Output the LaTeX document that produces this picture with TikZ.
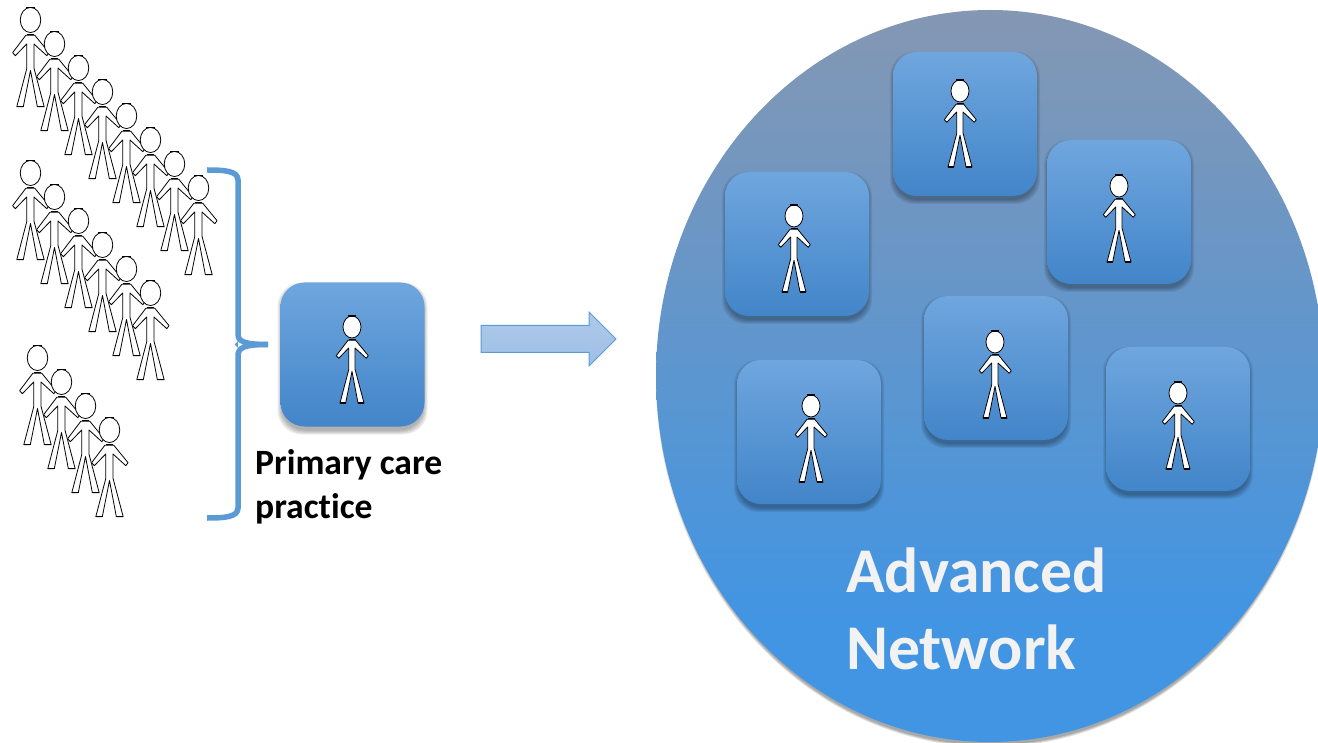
\documentclass[tikz,border=0pt]{standalone}
\usepackage{fontspec}
\setmainfont{Carlito}[Ligatures=NoCommon]
\usetikzlibrary{shapes.geometric}
\definecolor{tiletop}{HTML}{6FA6DE}
\definecolor{tilebot}{HTML}{4285C9}
\definecolor{bigtop}{HTML}{8497B3}
\definecolor{bigbot}{HTML}{4195E3}
\definecolor{bracecol}{HTML}{5B9BD5}
\definecolor{arrowtop}{HTML}{AFC9E9}
\definecolor{arrowbot}{HTML}{9DBFE6}
\pgfdeclareverticalshading{bigshade}{100bp}{color(0bp)=(bigbot); color(33bp)=(bigbot); color(75bp)=(bigtop); color(100bp)=(bigtop)}
\tikzset{
  x=1pt,y=-1pt,
  personline/.style={draw=black,fill=white,line width=.8pt,line join=round},
  personmark/.style={draw=black,line width=1.1pt},
  pics/person/.style={code={
    \path[personline] (-4,13.3)--(-15.7,28.7)--(-13.3,31.3)--(-3.3,21)--(-3.3,42.7)--(-12,76)--(-6.3,76)--(0,44.3)--(6,76)--(12,76)--(3,42)--(3,21)--(14.3,31.3)--(16.3,28.7)--(3.7,13.3)--cycle;
    \path[personmark] (-3.5,12.4)--(3.5,12.4);
    \path[personmark] (-6.3,76)--(-12,76) (6,76)--(12,76);
    \path[personline] (0,0) ellipse [x radius=9,y radius=11];
    \path[personmark] (-4,-11)--(4,-11);
  }},
  tileface/.style={rounded corners=24pt,top color=tiletop,bottom color=tilebot,draw=none,minimum width=144pt,minimum height=144pt,inner sep=0pt},
  tileshade/.style={rounded corners=24pt,fill=black,fill opacity=.07,draw=none,inner sep=0pt},
  bigtext/.style={text=white!95!black,font=\bfseries\fontsize{63.7}{77}\selectfont,align=left,anchor=north west,inner sep=0pt},
  smalltext/.style={text=black,font=\bfseries\fontsize{35.6}{44}\selectfont,align=left,anchor=north west,inner sep=0pt},
}
\newcommand{\tileat}[3]{%
  \foreach \sh in {8,6,4,2,0}{
    \node[tileshade,minimum width=142pt+\sh pt,minimum height=144pt+\sh pt] at (#1,#2+4) {};
  }
  \node[tileface] (#3) at (#1,#2) {};
}
\begin{document}
\begin{tikzpicture}
\useasboundingbox (0,0) rectangle (1318,743);
\begin{scope}
\clip (0,0) rectangle (1318,743);
\foreach \sh in {4,2,0}{
  \node[ellipse,fill=black,fill opacity=.13,draw=none,inner sep=0pt,minimum width=664pt+\sh pt,minimum height=732pt+\sh pt] at (990,379) {};
}
\node[draw=none,ellipse,shading=bigshade,minimum width=668pt,minimum height=732pt,inner sep=0pt] (network) at (990,376) {};
\end{scope}
% crowd
\foreach \n [evaluate=\n as \px using 30.5+24*\n, evaluate=\n as \py using 20+24*\n] in {0,...,7}{
  \pic[xscale=1.14,yscale=1.14] at (\px,\py) {person};
}
\foreach \n [evaluate=\n as \px using 30.5+24*\n, evaluate=\n as \py using 173+24*\n] in {0,...,5}{
  \pic[xscale=1.14,yscale=1.14] at (\px,\py) {person};
}
\foreach \n [evaluate=\n as \px using 37.5+24*\n, evaluate=\n as \py using 358+24*\n] in {0,...,3}{
  \pic[xscale=1.14,yscale=1.14] at (\px,\py) {person};
}
% brace
\draw[bracecol,line width=5.5pt] (207,170) .. controls (225,170) and (238,171) .. (238,180) -- (238,334) .. controls (238,341) and (243,344.5) .. (268,344.5);
\draw[bracecol,line width=5.5pt] (268,344.5) .. controls (243,344.5) and (238,348) .. (238,356) -- (238,508) .. controls (238,517) and (225,518) .. (207,518);
\fill[bracecol] (234.5,344.5)--(238,341)--(238,348)--cycle;
% tiles
\tileat{352.5}{354.5}{practice}
\tileat{965}{124}{t1}
\tileat{1119}{212}{t2}
\tileat{797}{244}{t3}
\tileat{996}{368}{t4}
\tileat{809}{432}{t5}
\tileat{1178}{419}{t6}
\pic at (352,327) {person};
\pic at (960,91) {person};
\pic at (1119,186) {person};
\pic at (794,216) {person};
\pic at (995,342) {person};
\pic at (811,406) {person};
\pic at (1178,393) {person};
% arrow
\path[draw=bracecol,line width=1pt,top color=arrowtop,bottom color=arrowbot] (481,325.5)--(589,325.5)--(589,312)--(616,339)--(589,366)--(589,352.5)--(481,352.5)--cycle;
% text
\node[smalltext] (label) at (255,449) {Primary care\\practice};
\node[bigtext] (title) at (846,548) {Advanced\\Network};
\end{tikzpicture}
\end{document}
